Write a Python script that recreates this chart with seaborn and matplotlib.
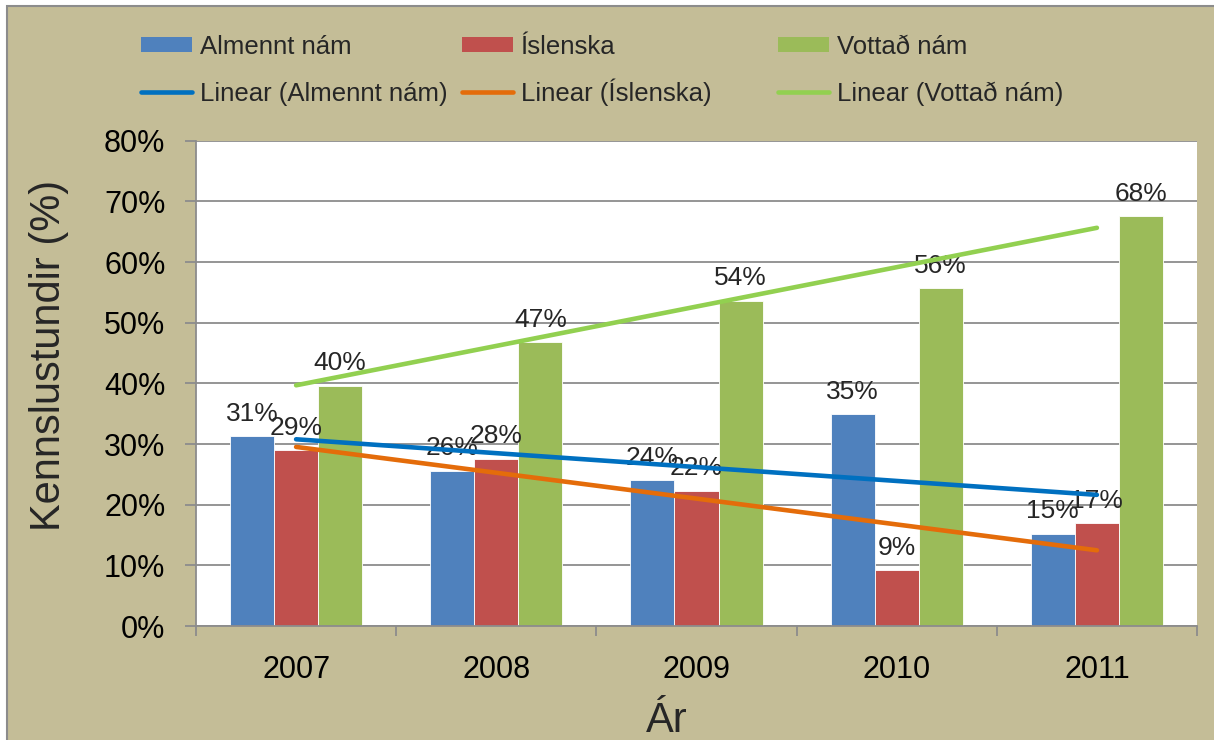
import numpy as np
import pandas as pd
import seaborn as sns
import matplotlib.pyplot as plt
from matplotlib.patches import Patch, Rectangle
from matplotlib.lines import Line2D

# Values (percent of teaching hours)
years = [2007, 2008, 2009, 2010, 2011]
almennt = [31.3, 25.6, 24.0, 34.9, 15.2]
islenska = [29.0, 27.6, 22.3, 9.2, 16.9]
vottad = [39.6, 46.8, 53.6, 55.7, 67.6]
series_names = ['Almennt nám', 'Íslenska', 'Vottað nám']
y_ticks = [0, 10, 20, 30, 40, 50, 60, 70, 80]

bar_colors = ['#4F81BD', '#C0504D', '#9BBB59']
trend_colors = ['#0070C0', '#E46C0A', '#92D050']
grid_grey = '#8C8C8C'

df = pd.DataFrame({
    'Ár': years * 3,
    'Hlutfall': almennt + islenska + vottad,
    'Flokkur': np.repeat(series_names, len(years)),
})

sns.set_style('white')
plt.rcParams['font.family'] = ['Liberation Sans', 'DejaVu Sans']

W, H = 1214, 740
fig = plt.figure(figsize=(W / 100, H / 100), dpi=100, facecolor='white')
# tan chart background with grey border (left/top visible)
fig.patches.append(Rectangle((7 / W, -0.05), 1.1, 1 - 6 / H + 0.05,
                             transform=fig.transFigure, facecolor='#C4BD97',
                             edgecolor=grid_grey, lw=1.5, zorder=-10))

ax = fig.add_axes([196 / W, 1 - 626 / H, 1001 / W, 485.3 / H])
ax.set_facecolor('white')

sns.barplot(data=df, x='Ár', y='Hlutfall', hue='Flokkur', palette=bar_colors,
            saturation=1, width=0.66, gap=0, edgecolor='white', linewidth=0.6,
            legend=False, ax=ax, zorder=2)

# data labels
for cont, vals in zip(ax.containers, [almennt, islenska, vottad]):
    ax.bar_label(cont, labels=[f'{v:.0f}%' for v in vals], padding=7.5,
                 fontsize=19, zorder=3)

# linear trend lines
xpos = np.arange(len(years))
for vals, c in zip([almennt, islenska, vottad], trend_colors):
    sns.regplot(x=xpos, y=vals, scatter=False, ci=None, truncate=True,
                color=c, ax=ax,
                line_kws=dict(lw=3.3, solid_capstyle='round', zorder=4))

ax.set_xlim(-0.5, len(years) - 0.5)
ax.set_ylim(0, 80)
ax.set_yticks(y_ticks)
ax.set_yticklabels([f'{t}%' for t in y_ticks])
ax.set_xticks(xpos)
ax.set_xticklabels([str(y) for y in years])
ax.set_xticks(np.arange(-0.5, len(years)), minor=True)

ax.yaxis.grid(True, color=grid_grey, lw=1.3)
ax.set_axisbelow(True)
for s in ['top', 'right']:
    ax.spines[s].set_visible(False)
for s in ['left', 'bottom']:
    ax.spines[s].set_color(grid_grey)
    ax.spines[s].set_linewidth(1.3)

ax.tick_params(axis='y', left=True, length=8, width=1.3, color=grid_grey,
               pad=14, labelsize=22, labelcolor='black')
ax.tick_params(axis='x', which='major', bottom=True, length=0, pad=21,
               labelsize=22, labelcolor='black')
ax.tick_params(axis='x', which='minor', bottom=True, length=7.5, width=1.3,
               color=grid_grey)

ax.set_ylabel('Kennslustundir (%)', fontsize=30)
ax.yaxis.set_label_coords(-0.1357, 0.5576)
ax.yaxis.label.set_va('baseline')
ax.set_xlabel('Ár', fontsize=30)
ax.xaxis.set_label_coords(0.470, -0.218)
ax.xaxis.label.set_va('baseline')

# legend: three columns, bars on top row, trend lines below
# one single-entry legend per cell so rows line up on the baseline
leg_kw = dict(loc='lower left', frameon=False, fontsize=18.5,
              handlelength=2.0, handleheight=0.55, handletextpad=0.28,
              borderpad=0, borderaxespad=0)
for i, x_px in enumerate([141, 462, 778]):
    bar_h = Patch(facecolor=bar_colors[i], edgecolor='none')
    line_h = Line2D([], [], color=trend_colors[i], lw=3.3, solid_capstyle='round')
    fig.legend([bar_h], [series_names[i]],
               bbox_to_anchor=(x_px / W, 1 - 58.5 / H), **leg_kw)
    fig.legend([line_h], [f'Linear ({series_names[i]})'],
               bbox_to_anchor=(x_px / W, 1 - 105.5 / H), **leg_kw)

fig.savefig('out.png', dpi=100, facecolor='white')
